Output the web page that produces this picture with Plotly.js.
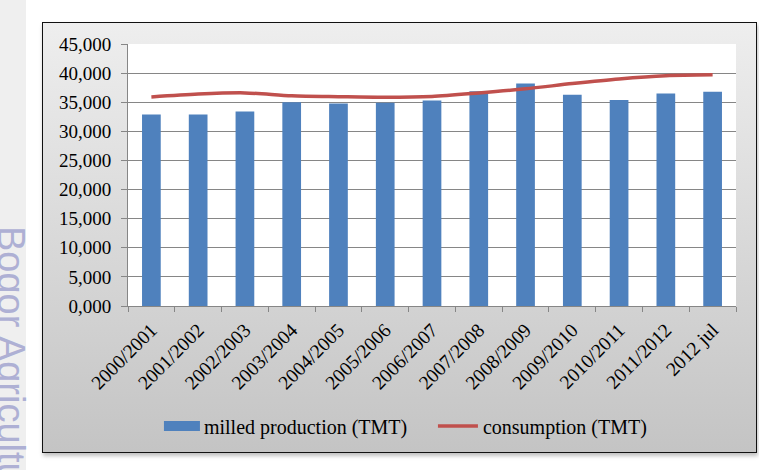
<!DOCTYPE html>
<html><head><meta charset="utf-8">
<script src="https://cdn.plot.ly/plotly-3.0.1.min.js"></script>
<style>
html,body{margin:0;padding:0;background:#fff;width:759px;height:470px;overflow:hidden;position:relative;}
#band{position:absolute;left:0;top:0;width:26px;height:470px;background:#efefef;}
#wm{position:absolute;left:30px;top:226px;font-family:"Liberation Sans",Arial,sans-serif;font-size:38px;line-height:38px;color:#aeb0d4;white-space:nowrap;transform:rotate(90deg);transform-origin:0 0;}
#box{position:absolute;left:42px;top:22px;width:713px;height:429px;border:1.5px solid #111;background:linear-gradient(to bottom,#eeeeee,#c4c4c4);box-shadow:1px 3px 4px rgba(0,0,0,0.25);}
#chart{position:absolute;left:0;top:0;width:713px;height:429px;}
</style></head>
<body>
<div id="band"></div>
<div id="wm">Bogor Agricultural University</div>
<div id="box"><div id="chart"></div></div>
<script>
var categories = ["2000/2001","2001/2002","2002/2003","2003/2004","2004/2005","2005/2006","2006/2007","2007/2008","2008/2009","2009/2010","2010/2011","2011/2012","2012 jul"];
var milledProduction = [32900, 32900, 33400, 35000, 34800, 34900, 35300, 36900, 38200, 36300, 35400, 36500, 36800];
var consumption = [35900, 36400, 36600, 36100, 35950, 35850, 36000, 36600, 37300, 38200, 39000, 39550, 39700];
var yTickVals = [0,5000,10000,15000,20000,25000,30000,35000,40000,45000];
var yTickText = ["0,000","5,000","10,000","15,000","20,000","25,000","30,000","35,000","40,000","45,000"];

var FONT = "Liberation Serif";
var GRID = "#868686";
var traces = [
  {type:"bar", name:"milled production (TMT)", x:categories, y:milledProduction,
   marker:{color:"#4f81bd"}},
  {type:"scatter", mode:"lines", name:"consumption (TMT)", x:categories, y:consumption,
   line:{color:"#c0504d", width:3.5, shape:"spline", smoothing:0.8}}
];
var layout = {
  width:713, height:429,
  margin:{l:85, r:20, t:21, b:146, autoexpand:false},
  paper_bgcolor:"rgba(0,0,0,0)", plot_bgcolor:"#ffffff",
  font:{family:FONT, size:19, color:"#000"},
  bargap:0.6,
  showlegend:true,
  legend:{orientation:"h", x:0.518, xanchor:"center", y:-0.458, yanchor:"middle",
          font:{family:FONT, size:20, color:"#000"}, bgcolor:"rgba(0,0,0,0)",
          entrywidth:234, entrywidthmode:"pixels", traceorder:"normal"},
  xaxis:{type:"category", tickangle:-45, showgrid:false, showline:true, linecolor:GRID, linewidth:1,
         ticks:"outside", tickson:"boundaries", ticklen:5, tickcolor:GRID, automargin:false,
         ticklabelstandoff:4, tickfont:{family:FONT, size:19.5}},
  yaxis:{range:[0,45000], tickvals:yTickVals, ticktext:yTickText, showgrid:true, gridcolor:GRID, gridwidth:1,
         zeroline:false, showline:true, linecolor:GRID, linewidth:1, ticks:"outside", ticklen:6, tickcolor:GRID,
         ticklabelstandoff:6, automargin:false, tickfont:{family:FONT, size:19}}
};
Plotly.newPlot("chart", traces, layout, {displayModeBar:false, staticPlot:true}).then(function(gd){
  try{
    var groups = gd.querySelectorAll(".legend .traces");
    if(groups[0]){
      var p = groups[0].querySelector(".legendpoints path");
      if(p) p.setAttribute("d","M16,5H-23V-5H16Z");
    }
    if(groups[1]){
      var l = groups[1].querySelector(".legendlines path");
      if(l) l.setAttribute("d","M-5,0h40");
    }
  }catch(e){}
});
</script>
</body></html>
